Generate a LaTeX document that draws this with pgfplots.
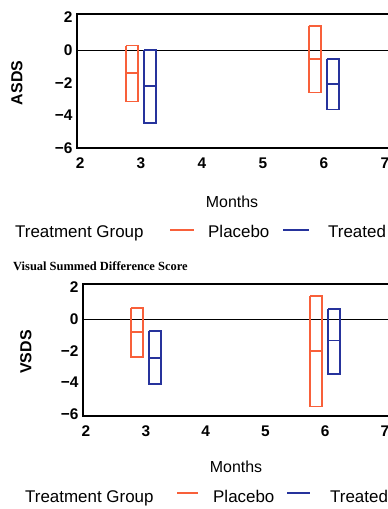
\documentclass[border=0pt]{standalone}
\usepackage{pgfplots}
\pgfplotsset{compat=1.18}
\usepackage{fontspec}
\setmainfont{Liberation Sans}
\newfontfamily\serifb{Liberation Serif}
\definecolor{placcol}{HTML}{F8603A}
\definecolor{trtcol}{HTML}{26339C}
\begin{document}
\begin{tikzpicture}
\path[use as bounding box] (0bp,0bp) rectangle (388bp,509bp);
\pgfplotsset{
  every axis/.append style={
    scale only axis, anchor=south west,
    xmin=1.95, xmax=7.1,
    xtick={2,3,4,5,6,7}, xticklabels={2,3,4,5,6,7},
    ytick={-6,-4,-2,0,2}, yticklabels={−6,−4,−2,0,2},
    tick style={draw=none},
    axis line style={black, line width=1.2bp},
    ticklabel style={font=\fontsize{15.5}{17}\selectfont\bfseries},
    xticklabel style={yshift=-6bp},
    yticklabel style={xshift=-1bp},
    clip=false,
  },
  pl/.style={color=placcol, line width=1.8bp, mark=none},
  tr/.style={color=trtcol, line width=1.8bp, mark=none},
}
% ---------- top: ASDS
\begin{axis}[at={(77bp,361bp)}, width=314bp, height=134bp, ymin=-6, ymax=2.2]
\addplot[black, line width=0.6bp] coordinates {(1.95,0) (7.1,0)};
% Placebo month 3
\addplot[pl] coordinates {(2.75,0.27) (2.95,0.27) (2.95,-3.15) (2.75,-3.15) (2.75,0.27)};
\addplot[pl] coordinates {(2.75,-1.4) (2.95,-1.4)};
% Treated month 3
\addplot[tr] coordinates {(3.05,0) (3.25,0) (3.25,-4.45) (3.05,-4.45) (3.05,0)};
\addplot[tr] coordinates {(3.05,-2.2) (3.25,-2.2)};
% Placebo month 6
\addplot[pl] coordinates {(5.75,1.45) (5.95,1.45) (5.95,-2.6) (5.75,-2.6) (5.75,1.45)};
\addplot[pl] coordinates {(5.75,-0.57) (5.95,-0.57)};
% Treated month 6
\addplot[tr] coordinates {(6.05,-0.55) (6.25,-0.55) (6.25,-3.65) (6.05,-3.65) (6.05,-0.55)};
\addplot[tr] coordinates {(6.05,-2.1) (6.25,-2.1)};
\end{axis}
% ---------- bottom: VSDS
\begin{axis}[at={(83bp,93bp)}, width=308bp, height=132bp, ymin=-6.1, ymax=2.2]
\addplot[black, line width=0.6bp] coordinates {(1.95,0) (7.1,0)};
\addplot[pl] coordinates {(2.75,0.67) (2.95,0.67) (2.95,-2.4) (2.75,-2.4) (2.75,0.67)};
\addplot[pl] coordinates {(2.75,-0.8) (2.95,-0.8)};
\addplot[tr] coordinates {(3.05,-0.75) (3.25,-0.75) (3.25,-4.1) (3.05,-4.1) (3.05,-0.75)};
\addplot[tr] coordinates {(3.05,-2.45) (3.25,-2.45)};
\addplot[pl] coordinates {(5.75,1.45) (5.95,1.45) (5.95,-5.5) (5.75,-5.5) (5.75,1.45)};
\addplot[pl] coordinates {(5.75,-2.0) (5.95,-2.0)};
\addplot[tr] coordinates {(6.05,0.65) (6.25,0.65) (6.25,-3.45) (6.05,-3.45) (6.05,0.65)};
\addplot[tr] coordinates {(6.05,-1.35) (6.25,-1.35)};
\end{axis}
% ---------- labels
\def\lf{\fontsize{17}{19}\selectfont}
\node[rotate=90, font=\fontsize{16}{18}\selectfont\bfseries] at (17bp,426bp) {ASDS};
\node[rotate=90, font=\fontsize{16}{18}\selectfont\bfseries] at (26bp,157bp) {VSDS};
\node[font=\fontsize{16}{18}\selectfont] at (232bp,307bp) {Months};
\node[font=\fontsize{16}{18}\selectfont] at (236bp,42bp) {Months};
% legend top
\node[font=\lf, anchor=base west, inner sep=0] at (15bp,271bp) {Treatment Group};
\draw[placcol, line width=1.8bp] (170bp,279bp) -- (194bp,279bp);
\node[font=\lf, anchor=base west, inner sep=0] at (208bp,271bp) {Placebo};
\draw[trtcol, line width=1.8bp] (283bp,279bp) -- (309bp,279bp);
\node[font=\lf, anchor=base west, inner sep=0] at (328bp,271bp) {Treated};
% title
\node[font=\serifb\fontsize{12.5}{14}\selectfont\bfseries, anchor=west, inner sep=0] at (13bp,243bp) {Visual Summed Difference Score};
% legend bottom
\node[font=\lf, anchor=base west, inner sep=0] at (25bp,7bp) {Treatment Group};
\draw[placcol, line width=1.8bp] (177bp,16bp) -- (198bp,16bp);
\node[font=\lf, anchor=base west, inner sep=0] at (213bp,7bp) {Placebo};
\draw[trtcol, line width=1.8bp] (287bp,16bp) -- (310bp,16bp);
\node[font=\lf, anchor=base west, inner sep=0] at (330bp,7bp) {Treated};
\end{tikzpicture}
\end{document}
